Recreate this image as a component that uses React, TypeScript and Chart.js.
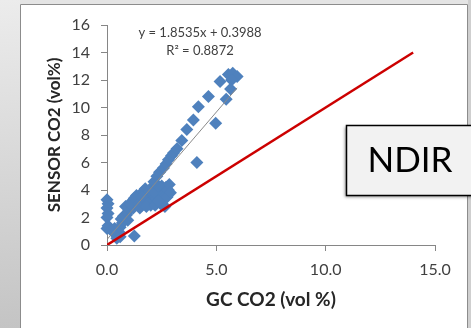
import React, { useEffect, useRef } from "react";
import { Chart, registerables } from "chart.js";

Chart.register(...registerables);

// GC CO2 (vol %) vs SENSOR CO2 (vol%) measured points
const gcCO2 = [
  0.0, 0.05, 0.0, 0.05, 0.0, 0.05, 0.0,
  0.2, 0.3, 0.45, 0.6, 0.55, 1.25, 0.35,
  0.6, 0.7, 0.8, 0.9, 1.0, 0.85, 1.05, 1.2, 1.3, 1.15, 1.4, 1.5, 1.55, 1.35,
  1.7, 1.65, 1.8, 1.75, 1.9, 2.0, 1.95, 2.1, 2.05, 2.2, 2.3, 2.25, 2.4, 2.45,
  2.5, 2.6, 2.7, 2.65, 2.8, 2.85, 1.6, 2.0,
  1.1, 1.25, 1.45, 1.6, 1.85, 2.15, 2.35, 2.55, 2.75, 2.9, 1.5, 1.8, 2.2, 2.35,
  0.75, 0.95, 0.65,
  2.15, 2.28, 2.4, 2.58, 2.7, 2.81, 2.95, 3.04, 3.2, 3.42, 3.65, 3.95, 4.18,
  4.64, 5.17, 5.55, 5.75, 5.95, 5.7, 5.65, 5.45, 4.97, 4.11,
];
const sensorCO2 = [
  3.3, 3.0, 2.7, 2.3, 2.0, 1.4, 1.2,
  1.1, 0.9, 0.5, 0.6, 0.95, 0.65, 1.2,
  1.3, 1.6, 1.9, 2.2, 2.5, 2.8, 2.9, 2.7, 3.1, 3.2, 3.4, 3.1, 3.7, 3.6,
  3.3, 3.9, 3.6, 4.1, 3.2, 3.5, 3.9, 3.7, 4.2, 3.3, 3.6, 4.1, 3.9, 3.0,
  4.3, 3.7, 4.2, 2.8, 4.0, 4.4, 2.9, 2.9,
  3.0, 3.4, 3.0, 3.5, 3.0, 3.9, 4.3, 3.4, 3.5, 3.8, 2.7, 2.8, 2.9, 3.2,
  2.1, 1.8, 1.9,
  4.6, 5.0, 5.3, 5.6, 5.9, 6.2, 6.5, 6.7, 7.0, 7.6, 8.4, 9.1, 10.06,
  10.8, 11.9, 12.4, 12.5, 12.25, 12.0, 11.35, 10.6, 8.85, 6.0,
];

// 1:1 reference line
const refLineX = [0, 14];
const refLineY = [0, 14];

// Linear trendline (Excel)
const trendSlope = 1.8535;
const trendIntercept = 0.3988;
const trendX = [0, 5.95];
const trendLabel = "y = 1.8535x + 0.3988";
const r2Label = "R\u00b2 = 0.8872";

const xTicks = [0, 5, 10, 15];
const yTicks = [0, 2, 4, 6, 8, 10, 12, 14, 16];

const xTitle = "GC CO2 (vol %)";
const yTitle = "SENSOR CO2 (vol%)";
const boxLabel = "NDIR";

const FONT = "Lato, 'Open Sans', sans-serif";

const decorPlugin = {
  id: "decor",
  beforeDraw(chart: any) {
    const ctx = chart.ctx as CanvasRenderingContext2D;
    const w = chart.width;
    const h = chart.height;
    ctx.save();
    const g = ctx.createLinearGradient(0, 0, 20, h);
    g.addColorStop(0, "#ececec");
    g.addColorStop(1, "#c4c4c4");
    ctx.fillStyle = g;
    ctx.fillRect(0, 0, w, h);
    ctx.fillStyle = "#e4e4e4";
    ctx.fillRect(20, 0, w - 20, 4);
    ctx.fillStyle = "#cfcfcf";
    ctx.fillRect(468, 0, w - 468, h);
    ctx.fillStyle = "#ffffff";
    ctx.fillRect(20, 4, 448, h - 4);
    ctx.strokeStyle = "#8c8c8c";
    ctx.lineWidth = 1;
    ctx.beginPath();
    ctx.moveTo(20.5, h);
    ctx.lineTo(20.5, 4.5);
    ctx.lineTo(467.5, 4.5);
    ctx.lineTo(467.5, h);
    ctx.stroke();
    ctx.restore();
  },
  afterDraw(chart: any) {
    const ctx = chart.ctx as CanvasRenderingContext2D;
    const area = chart.chartArea;
    ctx.save();
    // axis titles
    ctx.fillStyle = "#262626";
    ctx.textAlign = "center";
    ctx.textBaseline = "middle";
    ctx.font = `bold 19px ${FONT}`;
    ctx.fillText(xTitle, (area.left + area.right) / 2, 300);
    ctx.save();
    ctx.font = `bold 17px ${FONT}`;
    ctx.translate(55, 135);
    ctx.rotate(-Math.PI / 2);
    ctx.fillText(yTitle, 0, 0);
    ctx.restore();
    // trendline equation
    ctx.fillStyle = "#404040";
    ctx.font = `13px ${FONT}`;
    ctx.fillText(trendLabel, 200, 33);
    ctx.fillText(r2Label, 200, 51);
    // NDIR box
    ctx.save();
    ctx.shadowColor = "rgba(0,0,0,0.45)";
    ctx.shadowBlur = 3;
    ctx.shadowOffsetX = -1;
    ctx.shadowOffsetY = 2;
    ctx.fillStyle = "#f2f2f2";
    ctx.fillRect(346, 125, 130, 70);
    ctx.restore();
    ctx.strokeStyle = "#000000";
    ctx.lineWidth = 1.5;
    ctx.strokeRect(346.5, 125.5, 130, 70);
    ctx.fillStyle = "#000000";
    ctx.font = `35px ${FONT}`;
    ctx.fillText(boxLabel, 410, 161);
    ctx.restore();
  },
};

export default function App() {
  const ref = useRef<HTMLCanvasElement | null>(null);
  useEffect(() => {
    if (!ref.current) return;
    const points = gcCO2.map((x, i) => ({ x, y: sensorCO2[i] }));
    const refPts = refLineX.map((x, i) => ({ x, y: refLineY[i] }));
    const trendPts = trendX.map((x) => ({ x, y: trendSlope * x + trendIntercept }));
    const tickFont = { family: FONT, size: 16 };
    const chart = new Chart(ref.current, {
      type: "scatter",
      data: {
        datasets: [
          {
            label: "1:1",
            data: refPts,
            showLine: true,
            borderColor: "#cc0000",
            borderWidth: 2.5,
            pointRadius: 0,
          },
          {
            label: "Linear",
            data: trendPts,
            showLine: true,
            borderColor: "#8a8a8a",
            borderWidth: 1,
            pointRadius: 0,
          },
          {
            label: "NDIR",
            data: points,
            pointStyle: "rectRot",
            pointRadius: 6.5,
            backgroundColor: "#4f81bd",
            borderColor: "#4f81bd",
            borderWidth: 0,
            clip: false,
          },
        ],
      },
      options: {
        animation: false,
        responsive: false,
        maintainAspectRatio: false,
        layout: { padding: { top: 25, right: 36, left: 0, bottom: 0 } },
        plugins: { legend: { display: false }, tooltip: { enabled: false } },
        scales: {
          x: {
            type: "linear",
            min: 0,
            max: 15,
            afterBuildTicks: (s: any) => {
              s.ticks = xTicks.map((v) => ({ value: v }));
            },
            afterFit: (s: any) => {
              s.height = 83;
            },
            ticks: {
              font: tickFont,
              color: "#404040",
              padding: 9,
              maxRotation: 0,
              callback: (v: any) => Number(v).toFixed(1),
            },
            grid: { drawOnChartArea: false, drawTicks: true, tickLength: 6, color: "#868686" },
            border: { color: "#868686" },
          },
          y: {
            type: "linear",
            min: 0,
            max: 16,
            afterBuildTicks: (s: any) => {
              s.ticks = yTicks.map((v) => ({ value: v }));
            },
            afterFit: (s: any) => {
              s.width = 107;
            },
            ticks: {
              font: tickFont,
              color: "#404040",
              padding: 11,
              callback: (v: any) => String(v),
            },
            grid: { drawOnChartArea: false, drawTicks: true, tickLength: 6, color: "#868686" },
            border: { color: "#868686" },
          },
        },
      },
      plugins: [decorPlugin],
    });
    return () => chart.destroy();
  }, []);
  return (
    <div style={{ position: "fixed", left: 0, top: 0, width: 471, height: 328 }}>
      <canvas ref={ref} width={471} height={328} style={{ width: 471, height: 328, display: "block" }} />
    </div>
  );
}
